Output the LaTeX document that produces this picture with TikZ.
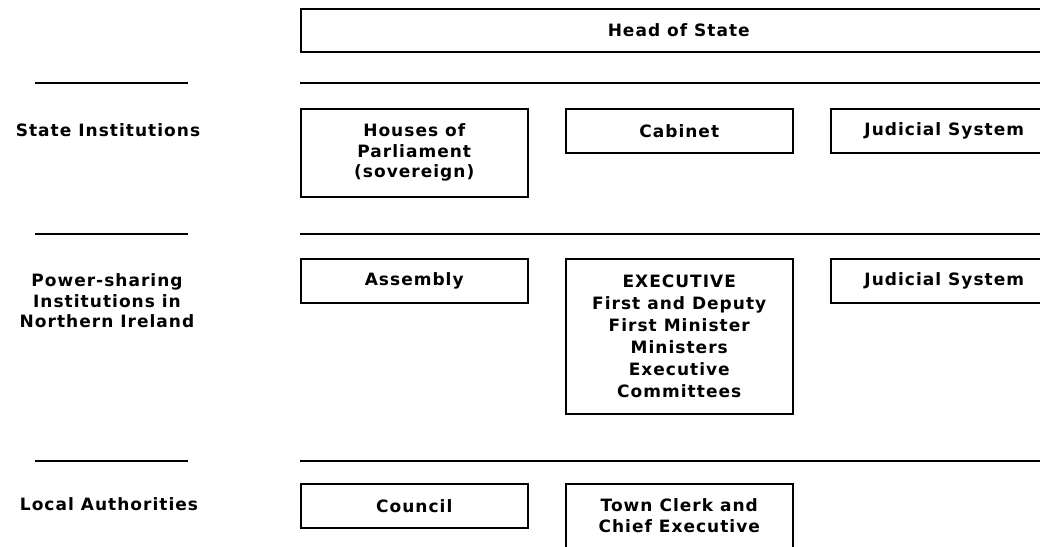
\documentclass[tikz,border=0pt]{standalone}
\usepackage{fontspec}
\setmainfont{DejaVu Sans}[LetterSpace=6]
\begin{document}
\begin{tikzpicture}[x=1pt,y=-1pt,
  every node/.style={font=\bfseries\fontsize{17}{20.5}\selectfont, align=center, inner sep=0pt},
  box/.style={draw, line width=1.5pt, anchor=north west, minimum width=227pt},
  sep/.style={line width=1.5pt},
  lbl/.style={anchor=center}]
\useasboundingbox (0,0) rectangle (1040,546);
\clip (0,0) rectangle (1040,546);
% head
\node[box, minimum width=756pt, minimum height=43pt] (head) at (300,8) {Head of State};
% separators
\foreach \yy in {83,234,461}{
  \draw[sep] (35,\yy) -- (188,\yy);
  \draw[sep] (300,\yy) -- (1060,\yy);
}
% labels
\node[lbl] (l1) at (108,130) {State Institutions};
\node[lbl] (l2) at (107,301) {Power-sharing\\Institutions in\\Northern Ireland};
\node[lbl] (l3) at (109,504) {Local Authorities};
% row 1
\node[box, minimum height=88pt] (houses) at (300,108) {Houses of\\Parliament\\(sovereign)};
\node[box, minimum height=44pt] (cabinet) at (565,108) {Cabinet};
\node[box, minimum height=44pt] (jud1) at (830,108) {Judicial System};
% row 2
\node[box, minimum height=44pt] (assembly) at (300,258) {Assembly};
\node[box, minimum height=155pt, font=\bfseries\fontsize{17}{22}\selectfont] (exec) at (565,258) {EXECUTIVE\\First and Deputy\\First Minister\\Ministers\\Executive\\Committees};
\node[box, minimum height=44pt] (jud2) at (830,258) {Judicial System};
% row 3
\node[box, minimum height=44pt] (council) at (300,483) {Council};
\node[box, minimum height=64pt] (clerk) at (565,483) {Town Clerk and\\Chief Executive};
\end{tikzpicture}
\end{document}
